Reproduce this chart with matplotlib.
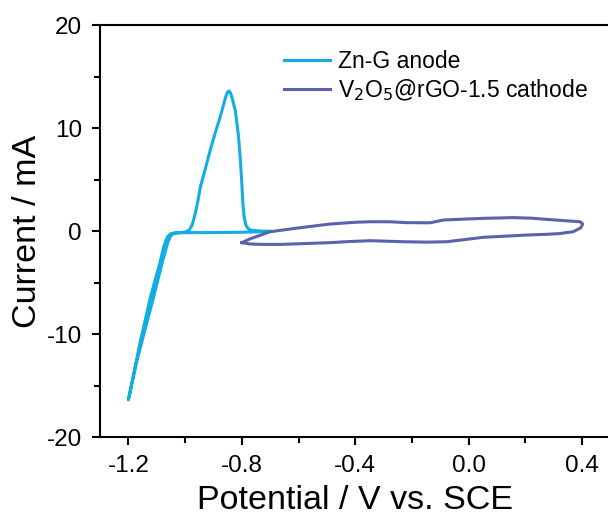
import matplotlib
matplotlib.use("Agg")
import matplotlib.pyplot as plt
from matplotlib.ticker import MultipleLocator

plt.rcParams["font.family"] = ["Liberation Sans", "DejaVu Sans"]

# Zn-G anode CV loop (potential in V vs. SCE, current in mA)
anode_v = [-0.70, -0.80, -0.90, -1.00, -1.03, -1.05, -1.062, -1.075, -1.09,
           -1.122, -1.16, -1.20,
           -1.17, -1.111, -1.08, -1.06, -1.05, -1.04, -1.02, -1.00, -0.985,
           -0.975, -0.965, -0.955, -0.946, -0.928, -0.911, -0.893, -0.876,
           -0.864, -0.856, -0.850, -0.845, -0.840, -0.834, -0.823, -0.812,
           -0.805, -0.800, -0.796, -0.792, -0.786, -0.778, -0.770, -0.740,
           -0.70]
anode_i = [-0.05, -0.12, -0.15, -0.16, -0.18, -0.25, -0.55, -1.5, -3.2,
           -6.4, -11.0, -16.4,
           -12.6, -6.4, -3.0, -1.0, -0.45, -0.22, -0.15, -0.1, 0.1,
           0.6, 1.6, 2.9, 4.3, 6.1, 7.9, 9.6, 11.1,
           12.3, 13.1, 13.5, 13.6, 13.4, 12.9, 11.7, 9.3,
           6.9, 4.6, 2.6, 1.4, 0.6, 0.25, 0.1, 0.0,
           -0.02]

# V2O5@rGO-1.5 cathode CV loop
cathode_v = [-0.80, -0.77, -0.70, -0.60, -0.488, -0.40, -0.347, -0.28, -0.218,
             -0.136, -0.089, -0.02, 0.052, 0.157, 0.22, 0.275, 0.34, 0.393,
             0.402, 0.395, 0.368, 0.32, 0.275, 0.205, 0.13, 0.052, -0.02,
             -0.077, -0.15, -0.23, -0.347, -0.42, -0.488, -0.58, -0.665,
             -0.73, -0.77, -0.80]
cathode_i = [-1.13, -0.75, -0.07, 0.3, 0.68, 0.85, 0.9, 0.9, 0.81,
             0.8, 1.07, 1.15, 1.23, 1.3, 1.25, 1.13, 1.0, 0.9,
             0.68, 0.3, -0.07, -0.25, -0.32, -0.39, -0.5, -0.61, -0.85,
             -1.04, -1.08, -1.04, -0.94, -1.02, -1.13, -1.22, -1.3,
             -1.3, -1.26, -1.13]

x_ticks = [-1.2, -0.8, -0.4, 0.0, 0.4]
x_labels = ["-1.2", "-0.8", "-0.4", "0.0", "0.4"]
y_ticks = [-20, -10, 0, 10, 20]
y_labels = ["-20", "-10", "0", "10", "20"]

fig = plt.figure(figsize=(6.08, 5.16), dpi=100)
ax = fig.add_axes([0.1645, 0.1531, 0.8396, 0.7984])

ax.plot(anode_v, anode_i, color="#12ADE3", lw=2.2, label="Zn-G anode",
        solid_joinstyle="round")
ax.plot(cathode_v, cathode_i, color="#5B62AC", lw=2.2,
        label="V$_2$O$_5$@rGO-1.5 cathode", solid_joinstyle="round")

ax.set_xlim(-1.3, 0.5)
ax.set_ylim(-20, 20)
ax.set_xticks(x_ticks)
ax.set_xticklabels(x_labels)
ax.set_yticks(y_ticks)
ax.set_yticklabels(y_labels)
ax.xaxis.set_minor_locator(MultipleLocator(0.2))
ax.yaxis.set_minor_locator(MultipleLocator(5))

for s in ax.spines.values():
    s.set_linewidth(1.5)
ax.tick_params(which="major", direction="out", length=6, width=1.5,
               labelsize=17.5, pad=7)
ax.tick_params(which="minor", direction="out", length=4, width=1.5)

ax.set_xlabel("Potential / V vs. SCE", fontsize=24.5, labelpad=6)
ax.set_ylabel("Current / mA", fontsize=24.5, labelpad=3)

ax.legend(loc="upper left", bbox_to_anchor=(0.32, 0.99), frameon=False,
          fontsize=16.5, handlelength=2.0, handletextpad=0.35,
          labelspacing=0.2)

fig.savefig("out.png", dpi=100)
